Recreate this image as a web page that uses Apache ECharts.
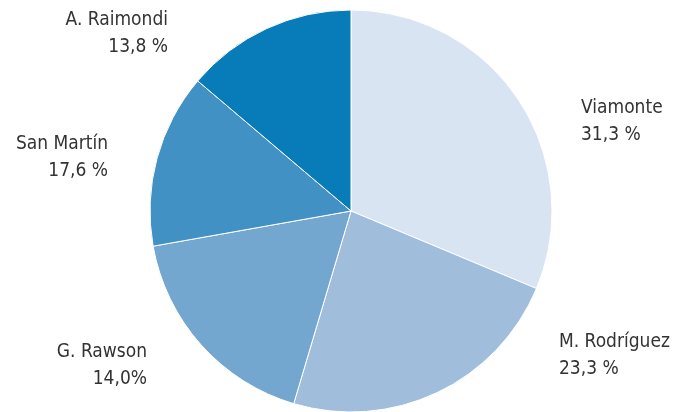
<!DOCTYPE html>
<html><head><meta charset="utf-8">
<script src="https://cdn.jsdelivr.net/npm/echarts@6/dist/echarts.min.js"></script>
<style>html,body{margin:0;padding:0;background:#fff}#c{width:673px;height:412px}</style>
</head><body><div id="c"></div>
<script>
var categories = ['Viamonte', 'M. Rodríguez', 'San Martín', 'G. Rawson', 'A. Raimondi'];
var values = [31.3, 23.3, 17.6, 14.0, 13.8];
var valueLabels = ['31,3 %', '23,3 %', '17,6 %', '14,0%', '13,8 %'];

var colors = ['#d8e4f2', '#a0bddb', '#74a7cf', '#4191c4', '#087cb8'];
// label anchors as placed in the original figure
var labelAnchors = [
  { x: 581, y: 122, align: 'left' },
  { x: 559, y: 356, align: 'left' },
  { x: 108, y: 158, align: 'right' },
  { x: 147, y: 366, align: 'right' },
  { x: 168, y: 34, align: 'right' }
];

var chart = echarts.init(document.getElementById('c'));
chart.setOption({
  animation: false,
  series: [{
    type: 'pie',
    center: [351, 211],
    radius: [0, 201],
    startAngle: 90,
    clockwise: true,
    avoidLabelOverlap: false,
    data: categories.map(function (n, i) {
      return { name: n, value: values[i], itemStyle: { color: colors[i] } };
    }),
    itemStyle: { borderColor: '#fff', borderWidth: 1 },
    label: {
      show: true,
      position: 'outside',
      fontFamily: 'DejaVu Sans Condensed',
      fontSize: 19,
      lineHeight: 27,
      color: '#333',
      formatter: function (p) { return p.name + '\n' + valueLabels[p.dataIndex]; }
    },
    labelLine: { show: false },
    labelLayout: function (p) {
      var a = labelAnchors[p.dataIndex];
      return { x: a.x, y: a.y, align: a.align, verticalAlign: 'middle' };
    }
  }]
});
</script></body></html>
